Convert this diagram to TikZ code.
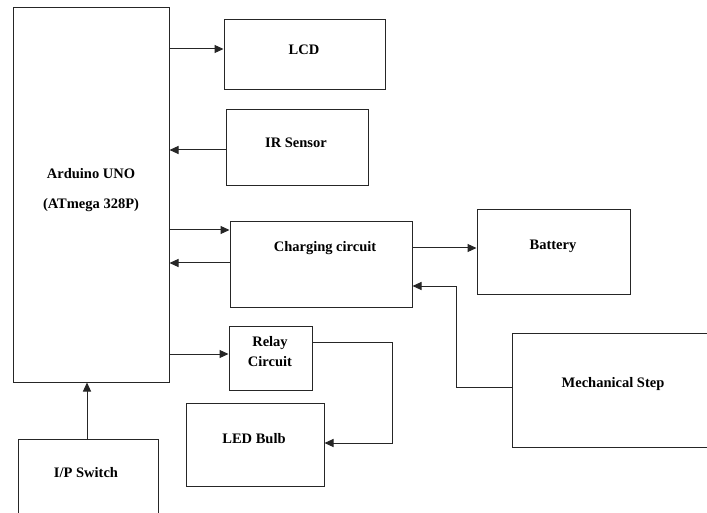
\documentclass[tikz,border=0pt]{standalone}
\usepackage{fontspec}
\setmainfont{Liberation Serif}
\usetikzlibrary{arrows.meta,calc}
\begin{document}
\begin{tikzpicture}[x=1pt,y=-1pt,
  box/.style={draw=black!85, line width=1pt, rectangle, inner sep=0pt},
  lbl/.style={font=\fontsize{14.5}{16}\selectfont\bfseries, inner sep=0pt, anchor=center},
  conn/.style={draw=black!85, line width=1pt},
  arr/.style={conn, -{Triangle[length=9pt,width=8pt]}}]
\useasboundingbox (0,0) rectangle (707,513);
\clip (0,0) rectangle (707,513);
% boxes
\node[box, minimum width=156pt, minimum height=374pt] (ard) at (91,195) {};
\node[box, minimum width=161pt, minimum height=70pt] (lcd) at (304.5,55) {};
\node[box, minimum width=142pt, minimum height=76pt] (ir) at (297,148) {};
\node[box, minimum width=182pt, minimum height=85pt] (chg) at (321,264.5) {};
\node[box, minimum width=153pt, minimum height=84pt] (bat) at (553.5,252) {};
\node[box, minimum width=208pt, minimum height=114pt] (mech) at (616,390) {};
\node[box, minimum width=83pt, minimum height=64pt] (relay) at (270.5,358) {};
\node[box, minimum width=138pt, minimum height=83pt] (led) at (255,444.5) {};
\node[box, minimum width=140pt, minimum height=91pt] (sw) at (88,484.5) {};
% labels
\node[lbl] (tard1) at (91,174) {Arduino UNO};
\node[lbl] (tard2) at (91,205) {(ATmega 328P)};
\node[lbl] (tlcd) at (304,50) {LCD};
\node[lbl] (tir) at (296,143) {IR Sensor};
\node[lbl] (tchg) at (325,248) {Charging circuit};
\node[lbl] (tbat) at (553,246) {Battery};
\node[lbl] (tmech) at (613,384) {Mechanical Step};
\node[lbl] (trel1) at (270,343) {Relay};
\node[lbl] (trel2) at (270,362) {Circuit};
\node[lbl] (tled) at (254,439) {LED Bulb};
\node[lbl] (tsw) at (86,473) {I/P Switch};
% helper coordinates
\coordinate (yl) at (0,49);
\coordinate (yi) at (0,150);
\coordinate (yc1) at (0,230);
\coordinate (yc2) at (0,263);
\coordinate (yb) at (0,248);
\coordinate (ym) at (0,286);
\coordinate (ymm) at (0,387);
\coordinate (xm) at (456,0);
\coordinate (yr) at (0,354);
\coordinate (yro) at (0,342);
\coordinate (xr) at (392,0);
\coordinate (yled) at (0,443);
\coordinate (xs) at (87,0);
% connectors
\draw[arr] (ard.east |- yl) -- (lcd.west |- yl);
\draw[arr] (ir.west |- yi) -- (ard.east |- yi);
\draw[arr] (ard.east |- yc1) -- (chg.west |- yc1);
\draw[arr] (chg.west |- yc2) -- (ard.east |- yc2);
\draw[arr] (chg.east |- yb) -- (bat.west |- yb);
\draw[arr] (mech.west |- ymm) -- (xm |- ymm) -- (xm |- ym) -- (chg.east |- ym);
\draw[arr] (ard.east |- yr) -- (relay.west |- yr);
\draw[arr] (relay.east |- yro) -- (xr |- yro) -- (xr |- yled) -- (led.east |- yled);
\draw[arr] (sw.north -| xs) -- (ard.south -| xs);
\end{tikzpicture}
\end{document}
